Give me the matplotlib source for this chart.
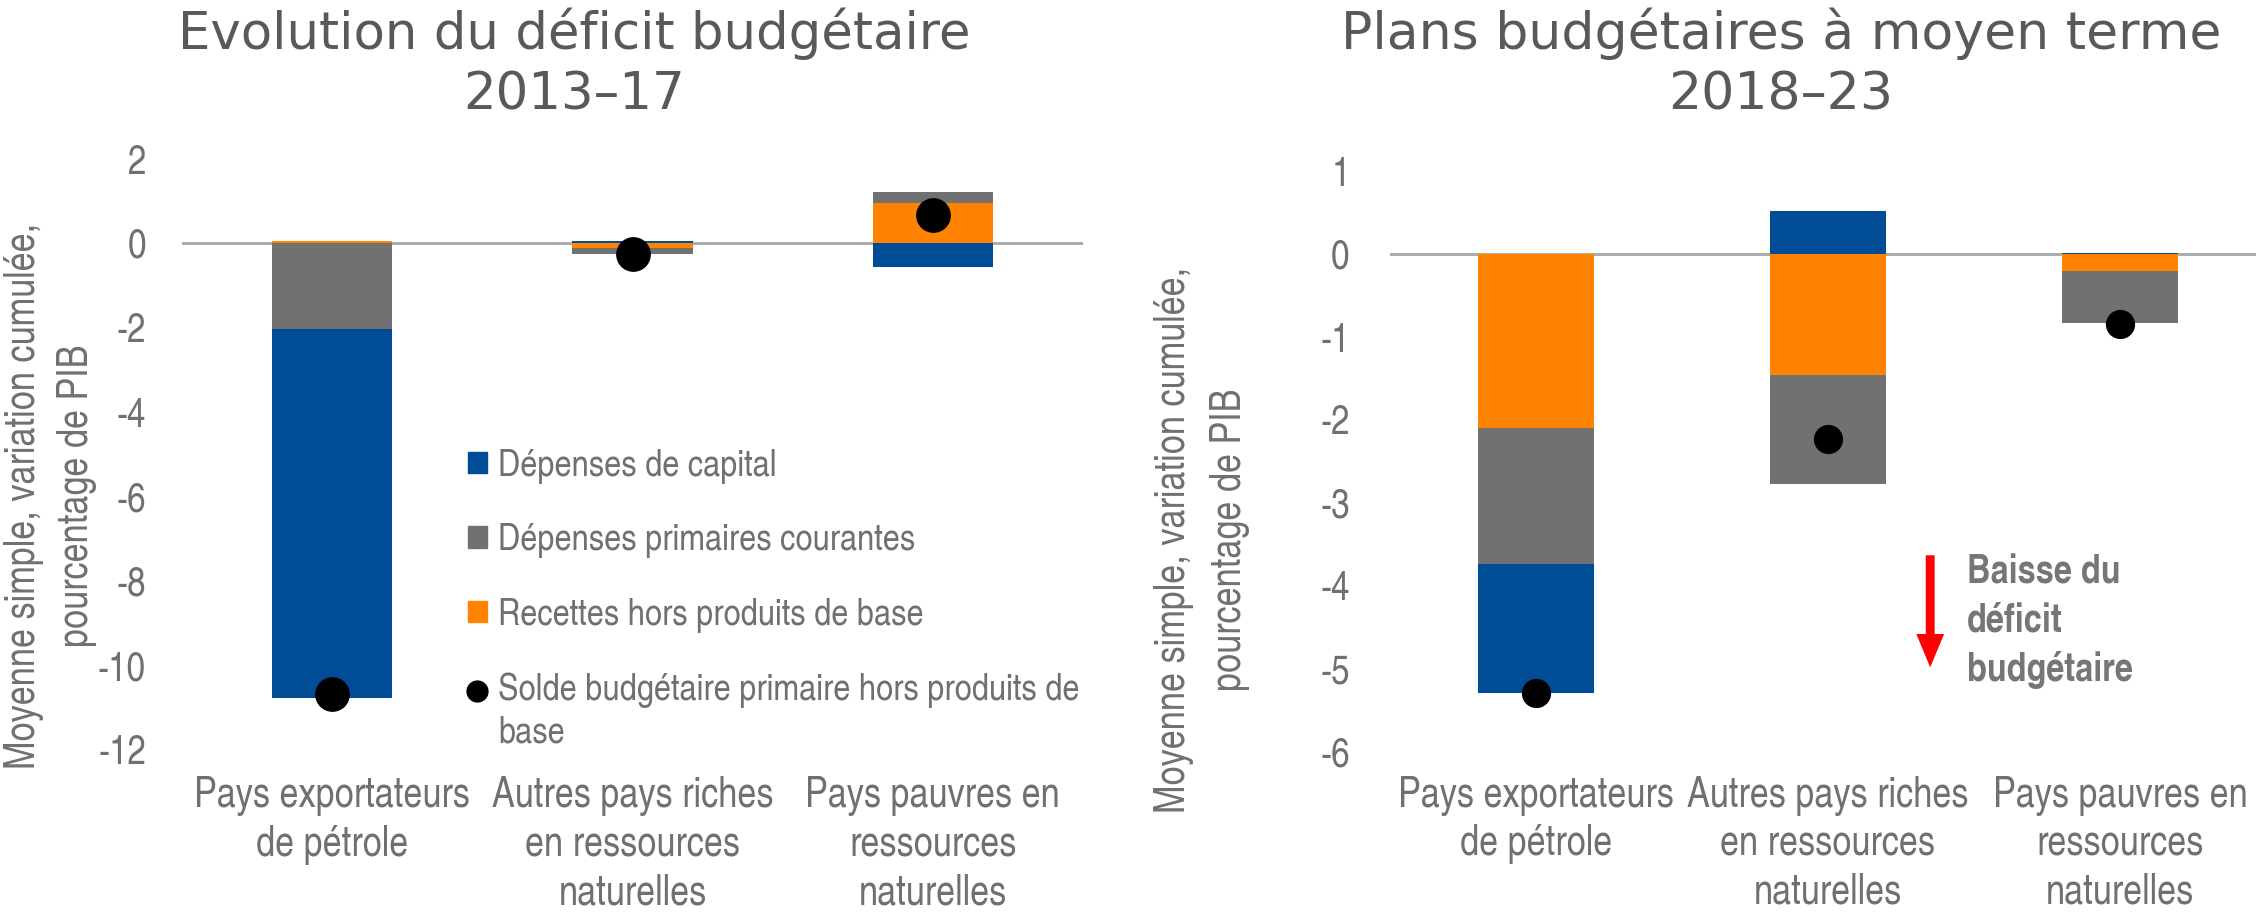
import numpy as np
import matplotlib
matplotlib.use('Agg')
import matplotlib.pyplot as plt
from matplotlib.patches import Patch
from matplotlib.lines import Line2D
from matplotlib.legend_handler import HandlerLine2D

# categories (same for both panels)
categories = ['Pays exportateurs\nde pétrole',
              'Autres pays riches\nen ressources\nnaturelles',
              'Pays pauvres en\nressources\nnaturelles']

# left panel: 2013-17
left_recettes = [0.05, -0.12, 0.95]
left_courantes = [-2.03, -0.14, 0.27]
left_capital = [-8.75, 0.05, -0.55]
left_solde = [-10.68, -0.26, 0.67]

# right panel: 2018-23
right_recettes = [-2.10, -1.46, -0.20]
right_courantes = [-1.63, -1.31, -0.63]
right_capital = [-1.56, 0.52, 0.01]
right_solde = [-5.29, -2.23, -0.84]

left_ticks = [2, 0, -2, -4, -6, -8, -10, -12]
right_ticks = [1, 0, -1, -2, -3, -4, -5, -6]

BLUE = '#004C97'
GREY = '#717171'
ORANGE = '#FF8200'
TXT = '#707070'
TITLE = '#595959'
NARROW = ['TeX Gyre Heros Cn', 'DejaVu Sans']
WIDE = ['DejaVu Sans']

plt.rcParams['axes.unicode_minus'] = False

ylab = 'Moyenne simple, variation cumulée,\npourcentage de PIB'

W, H = 2256, 915
fig = plt.figure(figsize=(W / 100, H / 100), dpi=100)


def px_axes(x0, x1, ytop, ybot):
    return fig.add_axes([x0 / W, 1 - ybot / H, (x1 - x0) / W, (ybot - ytop) / H])


def stacked(ax, series, colors, width):
    x = np.arange(len(categories))
    pos = np.zeros(len(categories))
    neg = np.zeros(len(categories))
    for vals, c in zip(series, colors):
        vals = np.array(vals)
        bottom = np.where(vals >= 0, pos, neg)
        ax.bar(x, vals, width, bottom=bottom, color=c, zorder=2)
        pos += np.clip(vals, 0, None)
        neg += np.clip(vals, None, 0)
    return x


def style(ax, ticks, tick_pad, cat_pad):
    for s in ax.spines.values():
        s.set_visible(False)
    ax.axhline(0, color='#A6A6A6', lw=2, zorder=1)
    ax.set_yticks(ticks)
    ax.set_ylim(min(ticks), max(ticks))
    ax.set_xticks(np.arange(len(categories)))
    ax.set_xticklabels(categories, family=NARROW, fontsize=30, color=TXT, linespacing=1.28)
    ax.tick_params(axis='x', length=0, pad=cat_pad)
    ax.tick_params(axis='y', length=0, pad=tick_pad)
    for t in ax.get_yticklabels():
        t.set_family(NARROW)
        t.set_fontsize(29)
        t.set_color(TXT)


# legend marker sits on the first line of a two-line label
class FirstLineHandler(HandlerLine2D):
    def __init__(self, shift, **kw):
        super().__init__(**kw)
        self.shift = shift

    def create_artists(self, *args, **kwargs):
        artists = super().create_artists(*args, **kwargs)
        for a in artists:
            a.set_ydata(np.asarray(a.get_ydata()) + self.shift)
        return artists


# ---------- left panel ----------
ax1 = px_axes(182, 1083, 159, 750)
x = stacked(ax1, [left_recettes, left_courantes, left_capital], [ORANGE, GREY, BLUE], 0.4)
ax1.plot(x, left_solde, 'o', color='black', markersize=24, zorder=3)
ax1.set_xlim(-0.5, 2.5)
style(ax1, left_ticks, 26, 19)
ax1.set_ylabel(ylab, family=NARROW, fontsize=30, color=TXT, va='center', linespacing=1.4)
ax1.yaxis.set_label_coords(-0.146, 0.43)

dot = Line2D([], [], ls='none', marker='o', color='black', markersize=15)
handles = [Patch(color=BLUE), Patch(color=GREY), Patch(color=ORANGE), dot]
labels = ['Dépenses de capital', 'Dépenses primaires courantes',
          'Recettes hors produits de base',
          'Solde budgétaire primaire hors produits de\nbase']
leg = ax1.legend(handles, labels, loc='upper left', bbox_to_anchor=(468 / W, 1 - 449 / H),
                 bbox_transform=fig.transFigure, frameon=False,
                 prop={'family': NARROW, 'size': 27}, handlelength=0.5, handleheight=0.5,
                 handletextpad=0.3, labelspacing=1.05, borderpad=0, borderaxespad=0,
                 handler_map={dot: FirstLineHandler(16)})
for t in leg.get_texts():
    t.set_color(TXT)
    t.set_linespacing(1.31)

# ---------- right panel ----------
ax2 = px_axes(1390, 2266, 171, 752)
x = stacked(ax2, [right_recettes, right_courantes, right_capital], [ORANGE, GREY, BLUE], 0.4)
ax2.plot(x, right_solde, 'o', color='black', markersize=20, zorder=3)
ax2.set_xlim(-0.5, 2.5)
style(ax2, right_ticks, 29, 17)
ax2.set_ylabel(ylab, family=NARROW, fontsize=30, color=TXT, va='center', linespacing=1.5)
ax2.yaxis.set_label_coords(-0.2146, 0.365)

ax2.annotate('', xy=(1.35, -4.98), xytext=(1.35, -3.63),
             arrowprops=dict(arrowstyle='simple,head_length=0.6,head_width=0.5,tail_width=0.16',
                             mutation_scale=40, color='red', lw=0, shrinkA=0, shrinkB=0))
ax2.text(1.476, -4.43, 'Baisse du\ndéficit\nbudgétaire', ha='left', va='center',
         family=NARROW, fontsize=28.5, fontweight='bold', color='#767676', linespacing=1.38)

# ---------- titles ----------
fig.text(574 / W, 1 - 64 / H, 'Evolution du déficit budgétaire\n2013–17', ha='center', va='center',
         family=WIDE, fontsize=37, color=TITLE, linespacing=1.28)
fig.text(1781 / W, 1 - 64 / H, 'Plans budgétaires à moyen terme\n2018–23', ha='center', va='center',
         family=WIDE, fontsize=37.5, color=TITLE, linespacing=1.28)

fig.savefig('out.png', dpi=100)
